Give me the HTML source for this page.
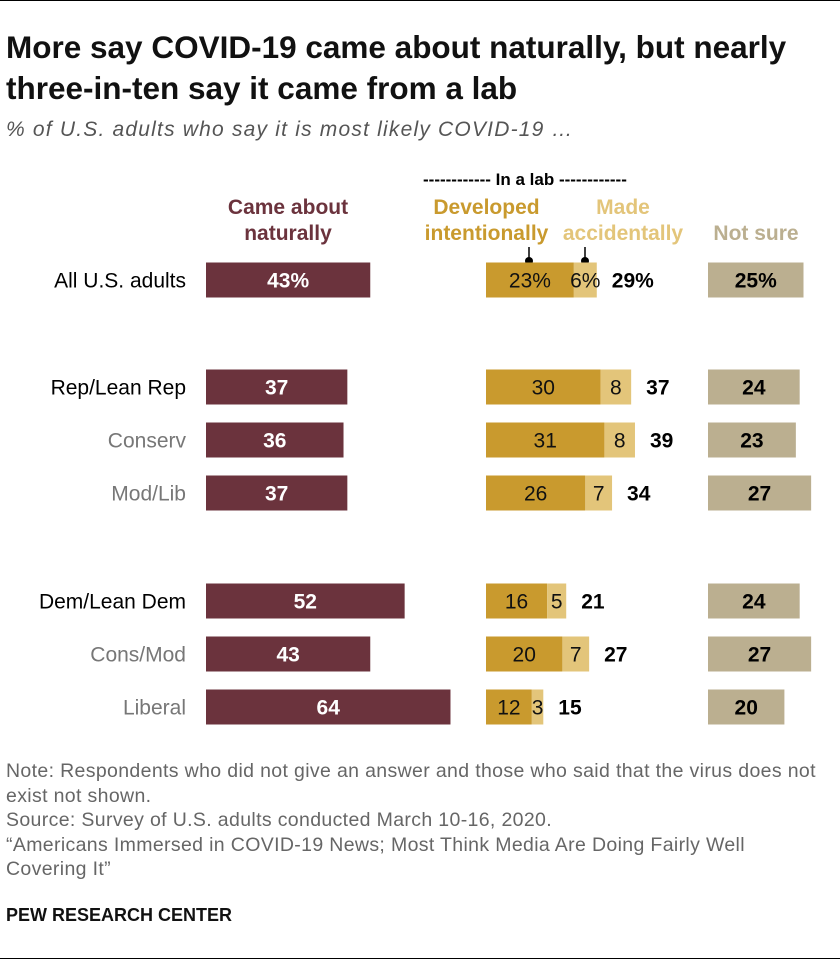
<!DOCTYPE html>
<html><head><meta charset="utf-8"><style>
body{margin:0;background:#fff;font-family:"Liberation Sans",Arial,sans-serif;}
#wrap{position:relative;width:840px;height:966px;overflow:hidden;}
.t{position:absolute;white-space:nowrap;}
</style></head><body>
<div id="wrap">
<div class="t" style="left:0;top:0;width:840px;height:1px;background:#000"></div>
<div class="t" style="left:6px;top:27px;font-size:31.5px;font-weight:bold;line-height:41px;color:#111">More say COVID-19 came about naturally, but nearly<br>three-in-ten say it came from a lab</div>
<div class="t" style="left:6px;top:118px;font-size:21px;letter-spacing:1.2px;font-style:italic;color:#555">% of U.S. adults who say it is most likely COVID-19 …</div>
<div class="t" style="left:423px;top:170px;font-size:17px;font-weight:bold;color:#000">------------ In a lab ------------</div>
<div class="t" style="left:188px;top:195px;width:200px;text-align:center;font-size:21px;font-weight:bold;color:#6b333d;line-height:26px">Came about<br>naturally</div>
<div class="t" style="left:404px;top:195px;width:165px;text-align:center;font-size:21px;font-weight:bold;color:#c99a2e;line-height:26px">Developed<br>intentionally</div>
<div class="t" style="left:553px;top:195px;width:140px;text-align:center;font-size:21px;font-weight:bold;color:#e3c57a;line-height:26px">Made<br>accidentally</div>
<div class="t" style="left:696px;top:222px;width:120px;text-align:center;font-size:21px;font-weight:bold;color:#bbaf90">Not sure</div>
<svg class="t" style="left:0;top:0" width="840" height="966" id="svg">
<line x1="529" y1="247" x2="529" y2="260" stroke="#000" stroke-width="1.5"/><circle cx="529" cy="261" r="4" fill="#000"/>
<line x1="585" y1="247" x2="585" y2="260" stroke="#000" stroke-width="1.5"/><circle cx="585" cy="261" r="4" fill="#000"/>
</svg>
<div class="t" style="left:6px;top:759px;font-size:19.5px;letter-spacing:0.35px;color:#666;line-height:24.5px">Note: Respondents who did not give an answer and those who said that the virus does not<br>exist not shown.<br>Source: Survey of U.S. adults conducted March 10-16, 2020.<br>“Americans Immersed in COVID-19 News; Most Think Media Are Doing Fairly Well<br>Covering It”</div>
<div class="t" style="left:6px;top:905px;font-size:18px;font-weight:bold;color:#111">PEW RESEARCH CENTER</div>
<div class="t" style="left:0;top:958px;width:840px;height:1px;background:#000"></div>
</div>
<script>
const categories=["All U.S. adults","Rep/Lean Rep","Conserv","Mod/Lib","Dem/Lean Dem","Cons/Mod","Liberal"];
const naturally=[43,37,36,37,52,43,64];
const intentional=[23,30,31,26,16,20,12];
const accidental=[6,8,8,7,5,7,3];
const labTotal=[29,37,39,34,21,27,15];
const notSure=[25,24,23,27,24,27,20];
const rowY=[280,387,440,493,601,654,707];
const sub=[false,false,true,true,false,true,true];
const NS="http://www.w3.org/2000/svg";
const svg=document.getElementById('svg');
const S=3.82,H=35;
const xN=v=>206+v*S, xL=v=>486+v*S, xS=v=>708+v*S;
function rect(x,y,w,c){const r=document.createElementNS(NS,'rect');r.setAttribute('x',x);r.setAttribute('y',y);r.setAttribute('width',w);r.setAttribute('height',H);r.setAttribute('fill',c);svg.appendChild(r);return r;}
function txt(x,y,s,c,b,anchor,sz){const t=document.createElementNS(NS,'text');t.setAttribute('x',x);t.setAttribute('y',y);t.setAttribute('fill',c);t.setAttribute('font-size',sz||21);if(b)t.setAttribute('font-weight','bold');t.setAttribute('text-anchor',anchor||'middle');t.setAttribute('font-family','"Liberation Sans",Arial,sans-serif');t.textContent=s;svg.appendChild(t);return t;}
categories.forEach((c,i)=>{
 const y=rowY[i],top=y-H/2,ty=y+7.5,p=i===0?'%':'';
 let l=txt(186,ty,c,sub[i]?'#777':'#000',false,'end');
 
 
 let r=rect(xN(0),top,xN(naturally[i])-xN(0),'#6b333d');
 
 
 txt((xN(0)+xN(naturally[i]))/2,ty,naturally[i]+p,'#fff',true);
 r=rect(xL(0),top,xL(intentional[i])-xL(0),'#c99a2e');
 
 
 txt((xL(0)+xL(intentional[i]))/2,ty,intentional[i]+p,'#111',false);
 const e=intentional[i]+accidental[i];
 r=rect(xL(intentional[i]),top,xL(e)-xL(intentional[i]),'#e3c57a');
 
 
 txt((xL(intentional[i])+xL(e))/2,ty,accidental[i]+p,'#111',false);
 txt(xL(e)+15,ty,labTotal[i]+p,'#000',true,'start');
 r=rect(xS(0),top,xS(notSure[i])-xS(0),'#bbaf90');
 
 
 txt((xS(0)+xS(notSure[i]))/2,ty,notSure[i]+p,'#000',true);
});
</script>
</body></html>
